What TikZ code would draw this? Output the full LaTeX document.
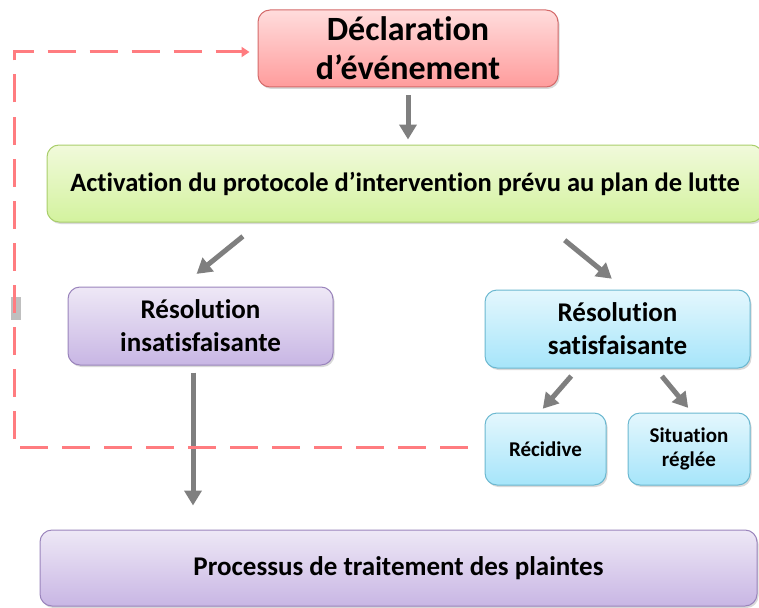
\documentclass[tikz,border=0pt]{standalone}
\usepackage{fontspec}
\setmainfont{Carlito}[Ligatures=NoCommon]
\usetikzlibrary{arrows.meta,shadows}
\definecolor{garrowc}{HTML}{7F7F7F}
\definecolor{dashc}{HTML}{FF7C80}
\definecolor{redtop}{HTML}{FFDCDC}
\definecolor{redbot}{HTML}{FF9C9C}
\definecolor{redbrd}{HTML}{D46A6A}
\definecolor{grntop}{HTML}{F1FADB}
\definecolor{grnbot}{HTML}{D3F29E}
\definecolor{grnbrd}{HTML}{A9CE6B}
\definecolor{purtop}{HTML}{EEE8F6}
\definecolor{purbot}{HTML}{C8B6E4}
\definecolor{purbrd}{HTML}{9A84BC}
\definecolor{blutop}{HTML}{E4F7FD}
\definecolor{blubot}{HTML}{A6E5FA}
\definecolor{blubrd}{HTML}{6BB8D0}
\tikzset{
  box/.style={rounded corners=12pt, line width=1pt, inner sep=0pt, align=center,
    font=\bfseries, text=black,
    drop shadow={opacity=0.3, shadow xshift=1.5pt, shadow yshift=-2pt}},
  redbox/.style={box, draw=redbrd, top color=redtop, bottom color=redbot},
  grnbox/.style={box, draw=grnbrd, top color=grntop, bottom color=grnbot},
  purbox/.style={box, draw=purbrd, top color=purtop, bottom color=purbot},
  blubox/.style={box, draw=blubrd, top color=blutop, bottom color=blubot},
  garrow/.style={draw=garrowc, line width=5pt, -{Triangle[width=17pt,length=15pt]}},
  dashline/.style={draw=dashc, line width=3pt, dash pattern=on 28pt off 14pt, -{Triangle[width=10pt,length=8pt]}}
}
\begin{document}
\begin{tikzpicture}[x=1pt,y=-1pt]
\useasboundingbox (0,0) rectangle (759,607);
\clip (0,0) rectangle (759,607);
\fill[black!25] (11,297) rectangle (21,320);
\node[redbox, minimum width=300pt, minimum height=77pt,
  font=\bfseries\fontsize{34}{39}\selectfont] (decl) at (408,48.5) {Déclaration\\d’événement};
\node[grnbox, minimum width=716pt, minimum height=77pt,
  font=\bfseries\fontsize{26.5}{30}\selectfont] (act) at (405,183.5) {Activation du protocole d’intervention prévu au plan de lutte};
\node[purbox, minimum width=265pt, minimum height=78pt,
  font=\bfseries\fontsize{27}{33}\selectfont] (insat) at (200.5,326) {Résolution\\insatisfaisante};
\node[blubox, minimum width=265pt, minimum height=78pt,
  font=\bfseries\fontsize{27}{33}\selectfont] (sat) at (617.5,329) {Résolution\\satisfaisante};
\node[blubox, minimum width=121pt, minimum height=72pt,
  font=\bfseries\fontsize{21}{24}\selectfont] (recid) at (545.5,449) {Récidive};
\node[blubox, minimum width=122pt, minimum height=72pt,
  font=\bfseries\fontsize{21}{24}\selectfont] (regl) at (689,449) {Situation\\réglée};
\node[purbox, minimum width=717pt, minimum height=76pt,
  font=\bfseries\fontsize{27}{30}\selectfont] (proc) at (398.5,568) {Processus de traitement des plaintes};
% arrows
\draw[garrow, shorten <=8pt, shorten >=5pt] (decl.south) -- (decl.south |- act.north);
\draw[garrow, shorten <=22pt, shorten >=20pt] ([xshift=-145pt]act.south) -- ([xshift=-19.5pt]insat.north);
\draw[garrow, shorten <=28pt, shorten >=17pt] ([xshift=138pt]act.south) -- ([xshift=7.5pt]sat.north);
\draw[garrow, shorten <=10pt, shorten >=5pt] ([xshift=-39.7pt]sat.south) -- ([xshift=-6pt]recid.north);
\draw[garrow, shorten <=10pt, shorten >=6pt] ([xshift=38pt]sat.south) -- ([xshift=3pt]regl.north);
\draw[garrow, shorten <=7pt, shorten >=24pt] ([xshift=-7.5pt]insat.south) -- ([xshift=-7.5pt]insat.south |- proc.north);
% dashed feedback
\coordinate (lft) at (14,250);
\draw[dashline, shorten >=8pt] ([xshift=-17pt,yshift=2pt]recid.west) -| (lft) |- ([yshift=-3.5pt]decl.west);
\end{tikzpicture}
\end{document}
